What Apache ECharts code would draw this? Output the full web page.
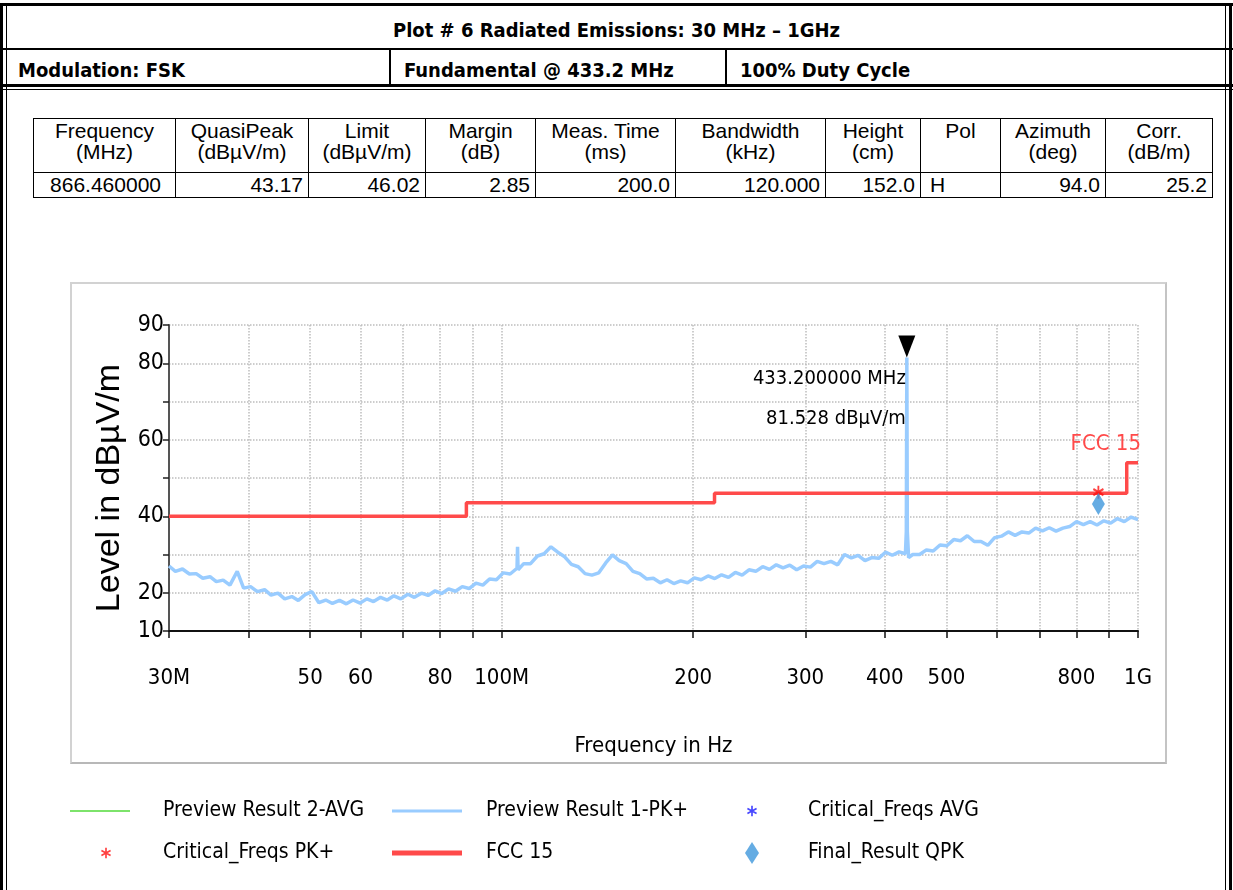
<!DOCTYPE html>
<html>
<head>
<meta charset="utf-8">
<script src="https://cdn.jsdelivr.net/npm/echarts@6/dist/echarts.min.js"></script>
<style>
  html, body { margin: 0; padding: 0; background: #fff; }
  body { width: 1233px; height: 890px; position: relative; overflow: hidden;
         font-family: 'Liberation Sans', Arial, sans-serif; }
  .ln { position: absolute; background: #000; }
  .hd { position: absolute; font-family: 'DejaVu Sans Condensed', sans-serif;
        font-weight: bold; font-size: 20px; line-height: 28px; color: #000; white-space: nowrap; }
  table.res { position: absolute; left: 33px; top: 118px; width: 1179px; table-layout: fixed;
              border-collapse: collapse; font-size: 21px; color: #000; }
  table.res td { border: 1px solid #000; padding: 0 5px; overflow: hidden; white-space: nowrap; }
  table.res tr.h td { height: 52px; text-align: center; line-height: 21px; vertical-align: top; padding-top: 1px; }
  table.res tr.d td { height: 24px; text-align: right; line-height: 24px; }
  #box { position: absolute; left: 70px; top: 282px; width: 1093px; height: 478px;
         border: 2px solid #d2d2d2; border-bottom-color: #b8b8b8; border-right-color: #c4c4c4; }
  #chart { position: absolute; left: 0; top: 270px; width: 1233px; height: 620px; }
</style>
</head>
<body>
<!-- frame -->
<div class="ln" style="left:0;top:3px;width:1233px;height:3px"></div>
<div class="ln" style="left:0;top:3px;width:3px;height:887px"></div>
<div class="ln" style="left:6px;top:3px;width:1px;height:887px"></div>
<div class="ln" style="left:1229px;top:3px;width:3px;height:887px"></div>
<div class="ln" style="left:1225px;top:3px;width:1px;height:887px"></div>
<div class="ln" style="left:0;top:48px;width:1233px;height:2px"></div>
<div class="ln" style="left:0;top:84px;width:1233px;height:3px"></div>
<div class="ln" style="left:0;top:89px;width:1233px;height:1px"></div>
<div class="ln" style="left:389px;top:48px;width:2px;height:38px"></div>
<div class="ln" style="left:725px;top:48px;width:2px;height:38px"></div>

<div class="hd" style="left:0;width:1233px;top:16px;text-align:center">Plot # 6 Radiated Emissions: 30 MHz – 1GHz</div>
<div class="hd" style="left:18px;top:56px">Modulation: FSK</div>
<div class="hd" style="left:404px;top:56px">Fundamental @ 433.2 MHz</div>
<div class="hd" style="left:740px;top:56px">100% Duty Cycle</div>

<table class="res">
  <colgroup>
    <col style="width:142px"><col style="width:133px"><col style="width:117px"><col style="width:110px">
    <col style="width:140px"><col style="width:150px"><col style="width:95px"><col style="width:80px">
    <col style="width:105px"><col style="width:107px">
  </colgroup>
  <tr class="h">
    <td>Frequency<br>(MHz)</td>
    <td>QuasiPeak<br>(dBµV/m)</td>
    <td>Limit<br>(dBµV/m)</td>
    <td>Margin<br>(dB)</td>
    <td>Meas. Time<br>(ms)</td>
    <td>Bandwidth<br>(kHz)</td>
    <td>Height<br>(cm)</td>
    <td>Pol</td>
    <td>Azimuth<br>(deg)</td>
    <td>Corr.<br>(dB/m)</td>
  </tr>
  <tr class="d">
    <td style="padding-right:14px">866.460000</td>
    <td>43.17</td>
    <td>46.02</td>
    <td>2.85</td>
    <td>200.0</td>
    <td>120.000</td>
    <td>152.0</td>
    <td style="text-align:left;padding-left:9px">H</td>
    <td>94.0</td>
    <td>25.2</td>
  </tr>
</table>

<div id="box"></div>
<div id="chart"></div>

<script>
// Preview Result 1-PK+ (MHz / dBuV/m)
var pkFreq = [
    30.0, 30.7, 31.5, 32.3, 33.1, 33.9, 34.8, 35.6, 36.5, 37.4,
    38.4, 39.3, 40.3, 41.3, 42.4, 43.4, 44.5, 45.6, 46.8, 47.9,
    49.1, 50.3, 51.6, 52.9, 54.2, 55.6, 57.0, 58.4, 59.9, 61.4,
    62.9, 64.5, 66.1, 67.7, 69.4, 71.2, 72.9, 74.8, 76.6, 78.6,
    80.5, 82.5, 84.6, 86.7, 88.9, 91.1, 93.4, 95.7, 98.1, 100.6,
    103.1, 105.7, 105.9, 106.1, 108.3, 111.0, 113.8, 116.6, 119.5, 122.5,
    125.6, 128.7, 131.9, 135.2, 138.6, 142.1, 145.7, 149.3, 153.0, 156.9,
    160.8, 164.8, 168.9, 173.1, 177.5, 181.9, 186.4, 191.1, 195.9, 200.8,
    205.8, 211.0, 216.2, 221.6, 227.2, 232.9, 238.7, 244.7, 250.8, 257.1,
    263.5, 270.1, 276.8, 283.7, 290.8, 298.1, 305.6, 313.2, 321.0, 329.1,
    337.3, 345.7, 354.4, 363.2, 372.3, 381.6, 391.2, 401.0, 411.0, 421.3,
    431.0, 432.4, 433.2, 434.0, 436.0, 442.6, 453.7, 465.0, 476.6, 488.5,
    500.7, 513.3, 526.1, 539.3, 552.8, 566.6, 580.7, 595.2, 610.1, 625.4,
    641.0, 657.0, 673.5, 690.3, 707.6, 725.3, 743.4, 762.0, 781.0, 800.5,
    820.6, 841.1, 862.1, 883.7, 905.8, 928.4, 951.6, 975.4, 1000.0];
var pkLevel = [
    27.0, 25.6, 26.2, 24.9, 25.0, 23.8, 24.2, 22.9, 23.3, 22.0,
    25.6, 21.2, 21.6, 20.3, 20.8, 19.4, 19.9, 18.4, 19.0, 18.0,
    19.5, 20.3, 17.4, 18.1, 17.2, 18.0, 17.1, 18.1, 17.3, 18.4,
    17.7, 18.8, 18.1, 19.2, 18.4, 19.6, 18.8, 19.9, 19.3, 20.5,
    19.8, 21.0, 20.4, 21.6, 21.1, 22.5, 22.0, 23.6, 23.4, 25.2,
    24.9, 26.4, 32.0, 26.0, 27.6, 27.6, 29.6, 30.2, 32.0, 30.6,
    29.4, 27.4, 26.8, 25.0, 24.6, 25.2, 27.8, 29.9, 28.4, 27.6,
    25.6, 25.0, 23.6, 23.8, 22.6, 23.4, 22.4, 23.1, 22.6, 23.9,
    23.4, 24.4, 23.7, 24.7, 24.0, 25.3, 24.6, 26.0, 25.6, 26.8,
    26.1, 27.3, 26.5, 27.2, 26.0, 27.0, 26.7, 28.2, 27.6, 28.2,
    27.3, 30.0, 29.1, 29.8, 28.4, 29.2, 29.0, 30.6, 29.8, 30.7,
    30.2, 36.0, 81.528, 36.0, 29.2, 30.0, 30.0, 31.2, 30.9, 32.5,
    32.3, 33.9, 33.6, 34.9, 33.4, 33.4, 32.4, 34.4, 34.8, 35.9,
    35.0, 35.9, 35.6, 36.9, 36.2, 37.0, 36.1, 36.9, 37.3, 38.6,
    37.8, 38.6, 37.7, 38.8, 38.2, 39.4, 38.6, 39.8, 39.1];

// FCC 15 limit
var limitFreq = [30, 88, 88, 216, 216, 960, 960, 1000];
var limitLevel = [40, 40, 43.5, 43.5, 46, 46, 54, 54];

// final result and critical frequency
var qpkFreq = [866.46];
var qpkLevel = [43.17];
var critPkFreq = [866.46];
var critPkLevel = [46.3];
var peakFreq = 433.2;
var peakLevel = 81.528;

// axis ticks
var xTickValues = [30, 40, 50, 60, 70, 80, 90, 100, 200, 300, 400, 500, 600, 700, 800, 900, 1000];
var xLabelValues = [30, 50, 60, 80, 100, 200, 300, 400, 500, 800, 1000];
var yLabelValues = [10, 20, 40, 60, 80, 90];

var narrow = "'DejaVu Sans Condensed', sans-serif";
var asterisk = 'path://M4.2,0L5.8,0L5.8,10L4.2,10Z M0.2,3.3L1,1.9L9.8,6.7L9,8.1Z M0.2,6.7L9,1.9L9.8,3.3L1,8.1Z';

function lg(v) { return Math.log10(v); }
function pairs(fs, vs) {
    return fs.map(function (f, i) { return [lg(f), vs[i]]; });
}

var mychart = echarts.init(document.getElementById('chart'));

function legendItem(name, left, top, w, h, icon, pad) {
    return {
        left: left, top: top, padding: 0, itemWidth: w, itemHeight: h,
        selectedMode: false,
        data: [{ name: name, icon: icon }],
        textStyle: { color: '#000', fontSize: 21, fontFamily: narrow, lineHeight: 28, padding: [0, 0, 0, pad] }
    };
}

var option = {
    animation: false,
    textStyle: { fontFamily: narrow },
    grid: { left: 169, right: 95, top: 55, bottom: 259, containLabel: false, outerBoundsMode: 'none' },
    legend: [
        legendItem('Preview Result 2-AVG', 70, 527, 60, 2, 'rect', 28),
        legendItem('Critical_Freqs PK+', 101, 569, 10, 14, asterisk, 47),
        legendItem('Preview Result 1-PK+', 392, 527, 70, 3, 'rect', 19),
        legendItem('FCC 15', 392, 569, 70, 5, 'rect', 19),
        legendItem('Critical_Freqs AVG', 747, 527, 10, 14, asterisk, 46),
        legendItem('Final_Result QPK', 745, 569, 14, 22, 'diamond', 44)
    ],
    xAxis: {
        type: 'value',
        min: lg(30),
        max: lg(1000),
        name: 'Frequency in Hz',
        nameLocation: 'middle',
        nameGap: 104,
        nameTextStyle: { color: '#000', fontSize: 22, fontFamily: narrow },
        axisLine: { show: true, lineStyle: { color: '#111', width: 2 } },
        axisTick: { show: true, length: 7, customValues: xTickValues.map(lg), lineStyle: { color: '#111', width: 1.5 } },
        axisLabel: {
            margin: 36,
            color: '#000',
            fontSize: 22,
            fontFamily: narrow,
            customValues: xLabelValues.map(lg),
            formatter: function (v) {
                var f = Math.round(Math.pow(10, v));
                if (f === 30) return '30M';
                if (f === 100) return '100M';
                if (f === 1000) return '1G';
                return String(f);
            }
        },
        splitLine: { show: true, lineStyle: { color: '#bdbdbd', type: 'dotted', width: 1.5 } }
    },
    yAxis: {
        type: 'value',
        min: 10,
        max: 90,
        interval: 10,
        name: 'Level in dBµV/m',
        nameLocation: 'middle',
        nameRotate: 90,
        nameGap: 36,
        nameTextStyle: { color: '#000', fontSize: 34, padding: [0, 20, 0, 0], fontFamily: "'Liberation Sans', Arial, sans-serif" },
        axisLine: { show: true, lineStyle: { color: '#555', width: 2 } },
        axisTick: { show: true, length: 6, lineStyle: { color: '#222', width: 1.5 } },
        axisLabel: { margin: 5, color: '#000', fontSize: 23, fontFamily: narrow, customValues: yLabelValues },
        splitLine: { show: true, lineStyle: { color: '#bdbdbd', type: 'dotted', width: 1.5 } }
    },
    series: [
        {
            name: 'Preview Result 2-AVG',
            type: 'line',
            color: '#7de36b',
            showSymbol: false,
            data: []
        },
        {
            name: 'Preview Result 1-PK+',
            type: 'line',
            color: '#99ccff',
            showSymbol: false,
            lineStyle: { width: 3.5, color: '#99ccff' },
            data: pairs(pkFreq, pkLevel),
            z: 2,
            markPoint: {
                silent: true,
                data: [
                    {
                        coord: [lg(peakFreq), peakLevel],
                        symbol: 'triangle',
                        symbolRotate: 180,
                        symbolSize: [17, 22],
                        symbolOffset: [0, -11],
                        itemStyle: { color: '#000' },
                        label: { show: false }
                    },
                    {
                        coord: [lg(peakFreq), peakLevel],
                        symbol: 'circle',
                        symbolSize: 0,
                        label: {
                            show: true,
                            position: 'left',
                            distance: 1,
                            offset: [0, 41],
                            align: 'right',
                            color: '#000',
                            fontSize: 20,
                            lineHeight: 40,
                            fontFamily: narrow,
                            formatter: peakFreq.toFixed(6) + ' MHz\n' + peakLevel.toFixed(3) + ' dBµV/m'
                        }
                    }
                ]
            }
        },
        {
            name: 'Critical_Freqs AVG',
            type: 'scatter',
            color: '#1a1aff',
            symbol: asterisk,
            data: []
        },
        {
            name: 'FCC 15',
            type: 'line',
            color: '#ff4a4a',
            showSymbol: false,
            lineStyle: { width: 3.5, color: '#ff4a4a' },
            data: pairs(limitFreq, limitLevel),
            z: 3,
            markPoint: {
                silent: true,
                data: [{
                    coord: [lg(1000), 54],
                    symbol: 'circle',
                    symbolSize: 0,
                    label: {
                        show: true,
                        position: 'top',
                        distance: 7,
                        align: 'right',
                        offset: [3, 0],
                        color: '#ff4a4a',
                        fontSize: 22,
                        fontFamily: narrow,
                        formatter: 'FCC 15'
                    }
                }]
            }
        },
        {
            name: 'Critical_Freqs PK+',
            type: 'scatter',
            color: '#ff1010',
            symbol: asterisk,
            symbolSize: [11, 13],
            data: pairs(critPkFreq, critPkLevel),
            z: 5
        },
        {
            name: 'Final_Result QPK',
            type: 'scatter',
            color: '#3f97dc',
            symbol: 'diamond',
            symbolSize: [13, 22],
            data: pairs(qpkFreq, qpkLevel),
            z: 6
        }
    ]
};
mychart.setOption(option);
</script>
</body>
</html>
